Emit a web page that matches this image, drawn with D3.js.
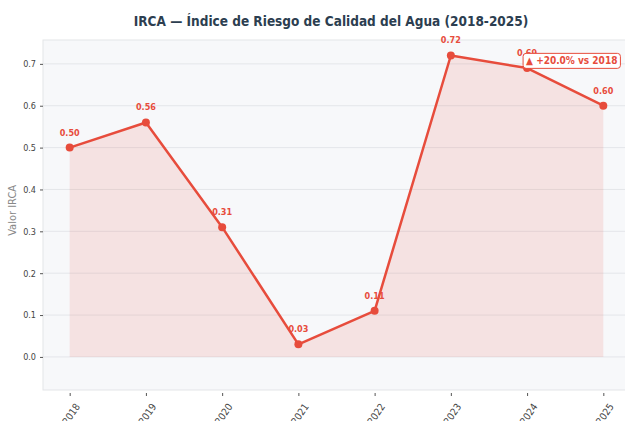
<!DOCTYPE html>
<meta charset="utf-8">
<style>
body { margin: 0; background: #fff; font-family: "DejaVu Sans Condensed", "DejaVu Sans", sans-serif; font-stretch: condensed; }
.axis path { display: none; }
.axis line { stroke: #555; }
.axis text { fill: #444; font-size: 9px; font-family: "DejaVu Sans Condensed", "DejaVu Sans", sans-serif; }
</style>
<body>
<script src="https://d3js.org/d3.v7.min.js"></script>
<script>

var years = [2018, 2019, 2020, 2021, 2022, 2023, 2024, 2025];
var irca = [0.50, 0.56, 0.31, 0.03, 0.11, 0.72, 0.69, 0.60];
var yTicks = [0.0, 0.1, 0.2, 0.3, 0.4, 0.5, 0.6, 0.7];
var note = "\u25B2 +20.0% vs 2018";

var width = 625, height = 421;
var margin = {top: 40, right: -5, bottom: 31, left: 43};

var svg = d3.select("body").append("svg")
    .attr("width", width)
    .attr("height", height);

var x = d3.scaleLinear()
    .domain([2017.65, 2025.35])
    .range([margin.left, width - margin.right]);

var y = d3.scaleLinear()
    .domain([-0.079, 0.757])
    .range([height - margin.bottom, margin.top]);

// plot background
svg.append("rect")
    .attr("x", margin.left)
    .attr("y", margin.top)
    .attr("width", width - margin.right - margin.left)
    .attr("height", height - margin.bottom - margin.top)
    .attr("fill", "#f7f8fa")
    .attr("stroke", "#e3e5e8");

// grid
svg.append("g").selectAll("line")
    .data(yTicks)
  .enter().append("line")
    .attr("x1", margin.left)
    .attr("x2", width)
    .attr("y1", function(d) { return y(d); })
    .attr("y2", function(d) { return y(d); })
    .attr("stroke", "#e4e6ea")
    .attr("stroke-width", 1);

// axes
svg.append("g")
    .attr("class", "axis")
    .attr("transform", "translate(" + margin.left + ",0)")
    .call(d3.axisLeft(y).tickValues(yTicks).tickFormat(d3.format(".1f")).tickSize(3).tickPadding(4));

var xAxis = svg.append("g")
    .attr("class", "axis")
    .attr("transform", "translate(0," + (height - margin.bottom + 3) + ")")
    .call(d3.axisBottom(x).tickValues(years).tickFormat(d3.format("d")).tickSize(3).tickPadding(0));

xAxis.selectAll("text")
    .style("text-anchor", "middle")
    .style("font-size", "10px")
    .attr("y", 0)
    .attr("dy", "0.35em")
    .attr("transform", "translate(1,21) rotate(-55)");

// area + line
var area = d3.area()
    .x(function(d, i) { return x(years[i]); })
    .y0(y(0))
    .y1(function(d) { return y(d); });

var line = d3.line()
    .x(function(d, i) { return x(years[i]); })
    .y(function(d) { return y(d); });

svg.append("path")
    .datum(irca)
    .attr("d", area)
    .attr("fill", "#e74c3c")
    .attr("fill-opacity", 0.12);

svg.append("path")
    .datum(irca)
    .attr("d", line)
    .attr("fill", "none")
    .attr("stroke", "#e74c3c")
    .attr("stroke-width", 2.5)
    .attr("stroke-linejoin", "round");

svg.append("g").selectAll("circle")
    .data(irca)
  .enter().append("circle")
    .attr("cx", function(d, i) { return x(years[i]); })
    .attr("cy", function(d) { return y(d); })
    .attr("r", 4)
    .attr("fill", "#e74c3c");

svg.append("g").selectAll("text")
    .data(irca)
  .enter().append("text")
    .attr("x", function(d, i) { return x(years[i]); })
    .attr("y", function(d) { return y(d) - 12; })
    .attr("text-anchor", "middle")
    .attr("fill", "#e74c3c")
    .style("font-size", "9px")
    .style("font-weight", "bold")
    .text(function(d) { return d.toFixed(2); });

// annotation box
var ax = x(2024) - 1, ay = y(0.7) - 3;
var ann = svg.append("g");
var annText = ann.append("text")
    .attr("x", ax)
    .attr("y", ay + 3.5)
    .attr("fill", "#e74c3c")
    .style("font-size", "10px")
    .style("font-weight", "bold")
    .text(note);
var bb = annText.node().getBBox();
ann.insert("rect", "text")
    .attr("x", bb.x - 3)
    .attr("y", bb.y - 2)
    .attr("width", bb.width + 6)
    .attr("height", bb.height + 4)
    .attr("rx", 3)
    .attr("fill", "#fff")
    .attr("stroke", "#e74c3c")
    .attr("stroke-width", 1);

// title and y label
svg.append("text")
    .attr("x", 331)
    .attr("y", 26)
    .attr("text-anchor", "middle")
    .attr("fill", "#2c3e50")
    .style("font-size", "13.5px")
    .style("font-weight", "bold")
    .text("IRCA \u2014 \u00CDndice de Riesgo de Calidad del Agua (2018-2025)");

svg.append("text")
    .attr("transform", "translate(16," + y(0.35) + ") rotate(-90)")
    .attr("text-anchor", "middle")
    .attr("fill", "#888")
    .style("font-size", "11px")
    .text("Valor IRCA");

</script>
</body>
